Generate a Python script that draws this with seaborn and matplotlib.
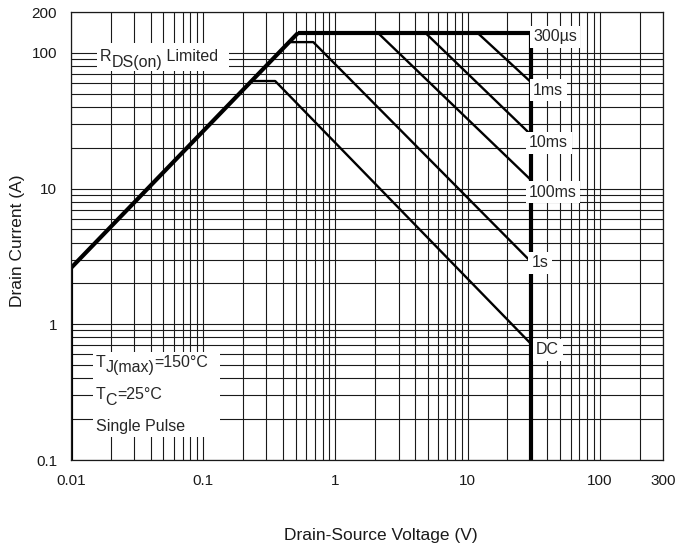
import numpy as np
import pandas as pd
import seaborn as sns
import matplotlib.pyplot as plt
from matplotlib.ticker import LogLocator, NullFormatter
from matplotlib.patches import Rectangle

# safe operating area curves (V, A)
rds_v = [0.01, 0.52]
rds_i = [2.6, 140]

us300_v = [0.52, 30]
us300_i = [140, 140]
ms1_v = [0.52, 11.9, 30]
ms1_i = [140, 140, 61]
ms10_v = [0.52, 4.8, 30]
ms10_i = [140, 140, 25]
ms100_v = [0.52, 2.1, 30]
ms100_i = [140, 140, 11.6]
s1_v = [0.46, 0.68, 30]
s1_i = [120, 120, 2.9]
dc_v = [0.24, 0.35, 30]
dc_i = [62, 62, 0.72]

# boundary edges
left_v = [0.01, 0.01]
left_i = [0.1, 2.6]
right_v = [30, 30]
right_i = [0.1, 140]

curve_names = ['300µs', '1ms', '10ms', '100ms', '1s', 'DC']
label_v = [31.2, 31.2, 29.1, 29.1, 30.5, 32.9]
label_i = [131, 53, 21.7, 9.4, 2.83, 0.65]

xticks_v = [0.01, 0.1, 1, 10, 100, 300]
xticks_lab = ['0.01', '0.1', '1', '10', '100', '300']
yticks_v = [0.1, 1, 10, 100, 200]
yticks_lab = ['0.1', '1', '10', '100', '200']

sns.set_style('white')
plt.rcParams['font.family'] = ['Liberation Sans', 'DejaVu Sans']

fig, ax = plt.subplots(figsize=(6.79, 5.51), dpi=100)
fig.subplots_adjust(left=71/679, right=663/679, bottom=1-460/551, top=1-12/551)

thick = [(rds_v, rds_i), (us300_v, us300_i), (left_v, left_i), (right_v, right_i)]
thin = [(ms1_v, ms1_i), (ms10_v, ms10_i), (ms100_v, ms100_i), (s1_v, s1_i), (dc_v, dc_i)]

for v, i in thick:
    sns.lineplot(x=v, y=i, ax=ax, color='black', lw=3.0, sort=False, estimator=None,
                 solid_capstyle='butt')
for v, i in thin:
    sns.lineplot(x=v, y=i, ax=ax, color='black', lw=1.7, sort=False, estimator=None)

ax.set_xscale('log')
ax.set_yscale('log')
ax.set_xlim(0.01, 300)
ax.set_ylim(0.1, 200)

ax.xaxis.set_minor_locator(LogLocator(base=10, subs=np.arange(2, 10), numticks=20))
ax.yaxis.set_minor_locator(LogLocator(base=10, subs=np.arange(2, 10), numticks=20))
ax.xaxis.set_minor_formatter(NullFormatter())
ax.yaxis.set_minor_formatter(NullFormatter())
ax.set_xticks(xticks_v)
ax.set_xticklabels(xticks_lab)
ax.set_yticks(yticks_v)
ax.set_yticklabels(yticks_lab)
ax.tick_params(which='both', length=0, labelsize=11, pad=10, colors='#1a1a1a')

ax.grid(True, which='both', color='#1a1a1a', lw=0.8)
for sp in ax.spines.values():
    sp.set_color('#1a1a1a')
    sp.set_linewidth(0.9)

# curve labels
for name, v, i in zip(curve_names, label_v, label_i):
    ax.text(v, i, name, fontsize=11.5, ha='left', va='center', zorder=5,
            bbox=dict(facecolor='white', edgecolor='none', pad=2.5))


def sub_text(x, y, parts, size=11.5):
    # parts: list of (string, is_subscript); subscripts are full size, just lowered
    t = ax.text(x, y, parts[0][0], transform=ax.transAxes, fontsize=size,
                ha='left', va='bottom', zorder=5)
    prev_sub = parts[0][1]
    for s, is_sub in parts[1:]:
        dy = 0
        if is_sub and not prev_sub:
            dy = -4
        elif prev_sub and not is_sub:
            dy = 4
        t = ax.annotate(s, xy=(1, 0), xycoords=t, xytext=(0, dy),
                        textcoords='offset points', fontsize=size,
                        ha='left', va='bottom', zorder=5)
        prev_sub = is_sub


# R_DS(on) label box
ax.add_patch(Rectangle((0.044, 0.868), 0.223, 0.063, transform=ax.transAxes,
                       facecolor='white', edgecolor='none', zorder=2))
sub_text(0.049, 0.884, [('R', False), ('DS(on)', True), (' Limited', False)])

# conditions box
ax.add_patch(Rectangle((0.037, 0.051), 0.215, 0.190, transform=ax.transAxes,
                       facecolor='white', edgecolor='none', zorder=2))
sub_text(0.042, 0.202, [('T', False), ('J(max)', True), ('=150°C', False)])
sub_text(0.042, 0.129, [('T', False), ('C', True), ('=25°C', False)])
sub_text(0.042, 0.059, [('Single Pulse', False)])

ax.set_xlabel('Drain-Source Voltage (V)', fontsize=12.5, color='#1a1a1a')
ax.set_ylabel('Drain Current (A)', fontsize=12.5, color='#1a1a1a')
ax.xaxis.set_label_coords(0.524, -0.152)
ax.yaxis.set_label_coords(-0.077, 0.49)

fig.savefig('out.png', dpi=100)
